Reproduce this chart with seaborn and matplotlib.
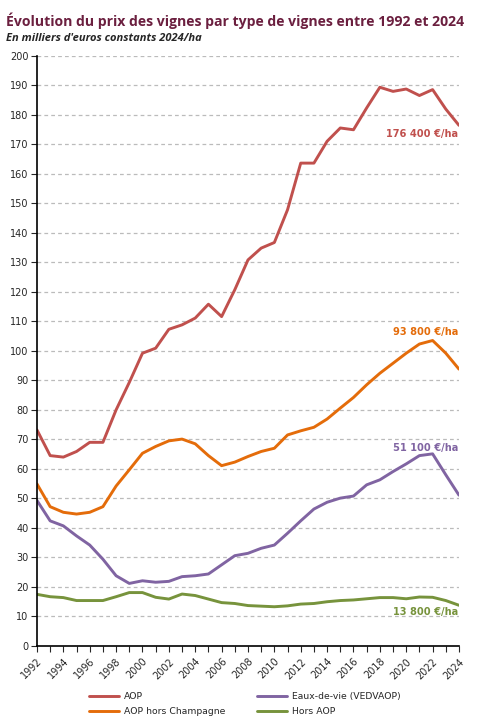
import numpy as np
import pandas as pd
import seaborn as sns
import matplotlib.pyplot as plt
from matplotlib.ticker import MultipleLocator
from matplotlib.lines import Line2D

# Données (milliers d'euros constants 2024/ha)
annees = list(range(1992, 2025))
aop = [73.2, 64.5, 64.0, 65.9, 69.0, 69.0, 80.0, 89.3, 99.2, 100.9, 107.3, 108.8,
       111.1, 115.8, 111.6, 120.7, 130.8, 134.8, 136.7, 147.8, 163.6, 163.6, 171.0,
       175.5, 174.9, 182.3, 189.3, 187.9, 188.7, 186.5, 188.5, 181.9, 176.4]
aop_hors_champ = [54.9, 47.2, 45.3, 44.7, 45.3, 47.2, 54.2, 59.7, 65.3, 67.6, 69.5, 70.1,
                  68.5, 64.5, 61.1, 62.3, 64.2, 65.9, 67.0, 71.5, 72.9, 74.1, 76.9,
                  80.6, 84.2, 88.5, 92.4, 95.8, 99.2, 102.3, 103.5, 99.2, 93.8]
eaux_de_vie = [49.3, 42.4, 40.7, 37.3, 34.2, 29.4, 23.8, 21.2, 22.1, 21.6, 21.9, 23.5,
               23.8, 24.4, 27.5, 30.6, 31.4, 33.1, 34.2, 38.2, 42.4, 46.4, 48.7,
               50.1, 50.8, 54.6, 56.3, 59.1, 61.7, 64.5, 65.1, 58.0, 51.1]
hors_aop = [17.5, 16.7, 16.4, 15.4, 15.4, 15.4, 16.7, 18.1, 18.1, 16.5, 15.9, 17.6,
            17.1, 15.9, 14.7, 14.4, 13.7, 13.5, 13.3, 13.6, 14.2, 14.4, 15.0,
            15.4, 15.6, 16.0, 16.4, 16.4, 16.0, 16.6, 16.5, 15.4, 13.8]

series = ["AOP", "AOP hors Champagne", "Eaux-de-vie (VEDVAOP)", "Hors AOP"]
couleurs = ["#c0504d", "#e46c0a", "#8064a2", "#77933c"]
etiquettes = ["176 400 €/ha", "93 800 €/ha", "51 100 €/ha", "13 800 €/ha"]
etiq_y = [173.5, 106.4, 67.2, 11.6]

df = pd.DataFrame({"Année": annees, "AOP": aop, "AOP hors Champagne": aop_hors_champ,
                   "Eaux-de-vie (VEDVAOP)": eaux_de_vie, "Hors AOP": hors_aop})
df_long = df.melt(id_vars="Année", var_name="Type", value_name="Prix")

sns.set_style("white")
plt.rcParams['font.family'] = ['DejaVu Sans']

fig = plt.figure(figsize=(4.93, 7.23), dpi=100)
ax = fig.add_axes([0.075, 0.1065, 0.856, 0.8165])

sns.lineplot(data=df_long, x="Année", y="Prix", hue="Type", hue_order=series,
             palette=couleurs, linewidth=2.1, legend=False, ax=ax)

ax.set_xlim(1992, 2024)
ax.set_ylim(0, 200)
ax.yaxis.set_major_locator(MultipleLocator(10))
ax.xaxis.set_major_locator(MultipleLocator(2))
ax.xaxis.set_minor_locator(MultipleLocator(1))
ax.grid(axis="y", color="#bbbbbb", linestyle=(0, (3, 2.5)), linewidth=0.9)
ax.set_axisbelow(True)
for s in ["top", "right"]:
    ax.spines[s].set_visible(False)
for s in ["left", "bottom"]:
    ax.spines[s].set_color("black")
    ax.spines[s].set_linewidth(1.2)
ax.tick_params(axis="y", which="major", direction="out", length=4, width=0.8,
               labelsize=7, left=True, pad=2)
ax.tick_params(axis="x", which="both", direction="out", length=4, width=0.8,
               labelsize=7, bottom=True)
ax.set_xticks(annees[::2])
ax.set_xticklabels([str(a) for a in annees[::2]], rotation=45, ha="right",
                   rotation_mode="anchor")
ax.set_xlabel("")
ax.set_ylabel("")

for lab, c, yv in zip(etiquettes, couleurs, etiq_y):
    ax.text(2023.95, yv, lab, color=c, fontsize=7.1, fontweight="bold", ha="right", va="center")

fig.text(0.012, 0.983, "Évolution du prix des vignes par type de vignes entre 1992 et 2024",
         fontsize=10.05, fontweight="bold", color="#6b1f3f", family="Open Sans", va="top")
fig.text(0.012, 0.955, "En milliers d'euros constants 2024/ha", fontsize=8,
         fontweight="bold", fontstyle="italic", family="Open Sans", va="top")

handles = [Line2D([0], [0], color=c, linewidth=2.1) for c in couleurs]
fig.legend(handles, series, loc="lower left", bbox_to_anchor=(0.163, -0.002), ncol=2,
           frameon=False, fontsize=6.7, handlelength=3.2, columnspacing=3.4,
           labelspacing=0.6, handletextpad=0.6)

fig.savefig("out.png", dpi=100)
